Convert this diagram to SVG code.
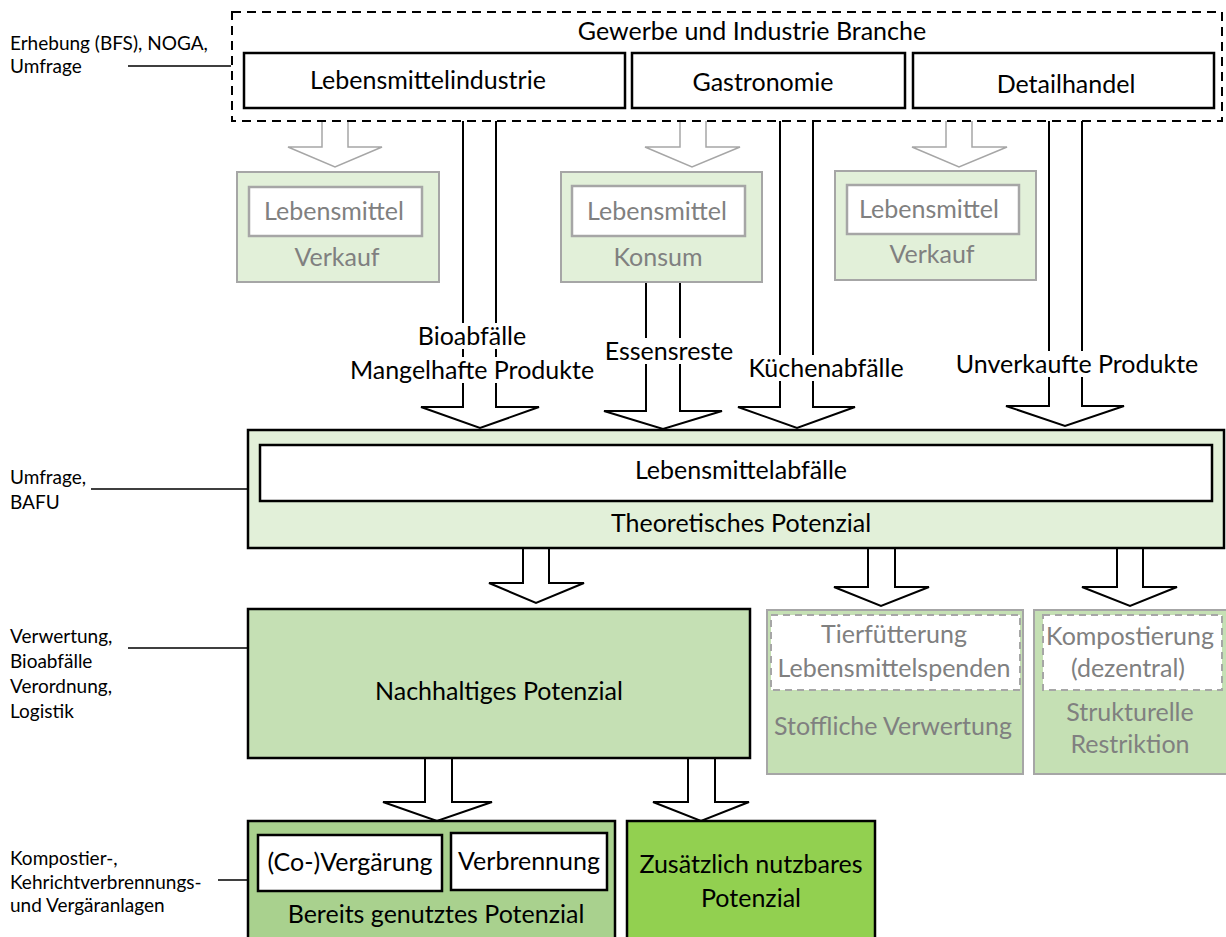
<svg xmlns="http://www.w3.org/2000/svg" width="1226" height="937" viewBox="0 0 1226 937">
<style>
text{font-family:Lato,"Open Sans","Liberation Sans",sans-serif;}
.m{font-size:25px;fill:#000;text-anchor:middle;}
.g{font-size:25px;fill:#808080;text-anchor:middle;}
.s{font-size:19px;fill:#000;}
.ba{fill:#fff;stroke:#000;stroke-width:2;stroke-linejoin:miter;}
.ga{fill:#fff;stroke:#a6a6a6;stroke-width:1.5;}
.lbl{stroke:#000;stroke-width:1.5;fill:none;}
.wb{fill:#fff;stroke:#000;stroke-width:2.5;}
.gbox{stroke:#a6a6a6;stroke-width:2;}
</style>
<rect width="1226" height="937" fill="#fff"/>
<g id="connectors">
<path class="lbl" d="M128,66 H231 M91,489 H248 M128,648 H248 M218,880 H248"/>
<path class="ga" d="M322,121 V147 H288 L335,167 L382,147 H348 V121"/>
<path class="ga" d="M680,121 V147 H645 L692,167 L740,147 H706 V121"/>
<path class="ga" d="M946,121 V147 H912 L959,167 L1007,147 H972 V121"/>
<path class="ba" d="M463,121 V407 H421 L480,428 L539,407 H496 V121"/>
<path class="ba" d="M646,282 V411 H604 L663,429 L722,411 H680 V282"/>
<path class="ba" d="M780,121 V407 H738 L797,428 L855,407 H813 V121"/>
<path class="ba" d="M1049,121 V406 H1006 L1065,426 L1124,406 H1082 V121"/>
<path class="ba" d="M523,549 V583 H489 L536,603 L584,583 H549 V549"/>
<path class="ba" d="M868,549 V587 H834 L881,606 L929,587 H895 V549"/>
<path class="ba" d="M1117,549 V587 H1082 L1130,606 L1177,587 H1143 V549"/>
<path class="ba" d="M425,758 V802 H383 L437,821 L492,802 H452 V758"/>
<path class="ba" d="M688,758 V802 H653 L701,821 L749,802 H715 V758"/>
<rect x="412" y="323" width="120" height="26" fill="#fff"/>
<rect x="348" y="357" width="248" height="26" fill="#fff"/>
<rect x="603" y="338" width="134" height="26" fill="#fff"/>
<rect x="745" y="355" width="164" height="26" fill="#fff"/>
<rect x="952" y="351" width="249" height="26" fill="#fff"/>
<text class="m" x="472" y="345">Bioabfälle</text>
<text class="m" x="472" y="379">Mangelhafte Produkte</text>
<text class="m" x="669" y="360">Essensreste</text>
<text class="m" x="826" y="377">Küchenabfälle</text>
<text class="m" x="1077" y="373">Unverkaufte Produkte</text>
</g>
<g id="labels">
<text class="s" x="10" y="50">Erhebung (BFS), NOGA,</text>
<text class="s" x="10" y="73">Umfrage</text>
<text class="s" x="10" y="484">Umfrage,</text>
<text class="s" x="10" y="509">BAFU</text>
<text class="s" x="10" y="643">Verwertung,</text>
<text class="s" x="10" y="668">Bioabfälle</text>
<text class="s" x="10" y="693">Verordnung,</text>
<text class="s" x="10" y="718">Logistik</text>
<text class="s" x="10" y="865">Kompostier-,</text>
<text class="s" x="10" y="889">Kehrichtverbrennungs-</text>
<text class="s" x="10" y="912">und Vergäranlagen</text>
</g>
<g id="branche">
<rect x="232" y="12" width="990" height="109" fill="#fff" stroke="#000" stroke-width="2" stroke-dasharray="9,6"/>
<text class="m" x="752" y="40">Gewerbe und Industrie Branche</text>
</g>
<g id="lebensmittelindustrie">
<rect class="wb" x="244" y="53" width="381" height="55"/>
<text class="m" x="428" y="89">Lebensmittelindustrie</text>
</g>
<g id="gastronomie">
<rect class="wb" x="632" y="53" width="273" height="55"/>
<text class="m" x="763" y="91">Gastronomie</text>
</g>
<g id="detailhandel">
<rect class="wb" x="913" y="53" width="301" height="55"/>
<text class="m" x="1066" y="93">Detailhandel</text>
</g>
<g id="verkauf1">
<rect class="gbox" x="237" y="172" width="202" height="110" fill="#e2f0d9"/>
<rect x="249" y="187" width="173" height="49" fill="#fff" stroke="#a6a6a6" stroke-width="2.5"/>
<text class="g" x="334" y="220">Lebensmittel</text>
<text class="g" x="337" y="266">Verkauf</text>
</g>
<g id="konsum">
<rect class="gbox" x="561" y="172" width="201" height="110" fill="#e2f0d9"/>
<rect x="572" y="186" width="173" height="50" fill="#fff" stroke="#a6a6a6" stroke-width="2.5"/>
<text class="g" x="657" y="220">Lebensmittel</text>
<text class="g" x="658" y="266">Konsum</text>
</g>
<g id="verkauf2">
<rect class="gbox" x="835" y="171" width="201" height="109" fill="#e2f0d9"/>
<rect x="847" y="185" width="172" height="49" fill="#fff" stroke="#a6a6a6" stroke-width="2.5"/>
<text class="g" x="929" y="218">Lebensmittel</text>
<text class="g" x="932" y="263">Verkauf</text>
</g>
<g id="theoretisch">
<rect x="248" y="430" width="976" height="118" fill="#e2f0d9" stroke="#000" stroke-width="2.5"/>
<rect class="wb" x="260" y="445" width="952" height="56"/>
<text class="m" x="741" y="479">Lebensmittelabfälle</text>
<text class="m" x="741" y="532">Theoretisches Potenzial</text>
</g>
<g id="nachhaltig">
<rect x="248" y="609" width="502" height="149" fill="#c5e0b4" stroke="#000" stroke-width="2.5"/>
<text class="m" x="499" y="700">Nachhaltiges Potenzial</text>
</g>
<g id="stofflich">
<rect class="gbox" x="767" y="610" width="256" height="164" fill="#c5e0b4"/>
<rect x="771" y="615" width="249" height="75" fill="#fff" stroke="#a6a6a6" stroke-width="2" stroke-dasharray="7,5"/>
<text class="g" x="894" y="643">Tierfütterung</text>
<text class="g" x="894" y="677">Lebensmittelspenden</text>
<text class="g" x="893" y="735">Stoffliche Verwertung</text>
</g>
<g id="restriktion">
<rect class="gbox" x="1034" y="610" width="194" height="164" fill="#c5e0b4"/>
<rect x="1043" y="615" width="179" height="75" fill="#fff" stroke="#a6a6a6" stroke-width="2" stroke-dasharray="7,5"/>
<text class="g" x="1130" y="645">Kompostierung</text>
<text class="g" x="1128" y="677">(dezentral)</text>
<text class="g" x="1130" y="721">Strukturelle</text>
<text class="g" x="1130" y="753">Restriktion</text>
</g>
<g id="bereits">
<rect x="248" y="821" width="367" height="130" fill="#a9d18e" stroke="#000" stroke-width="2.5"/>
<rect class="wb" x="258" y="835" width="184" height="56"/>
<rect class="wb" x="451" y="833" width="156" height="57"/>
<text class="m" x="350" y="871">(Co-)Vergärung</text>
<text class="m" x="529" y="870">Verbrennung</text>
<text class="m" x="436" y="923">Bereits genutztes Potenzial</text>
</g>
<g id="zusaetzlich">
<rect x="627" y="821" width="248" height="130" fill="#92d050" stroke="#000" stroke-width="2.5"/>
<text class="m" x="751" y="873">Zusätzlich nutzbares</text>
<text class="m" x="751" y="907">Potenzial</text>
</g>
</svg>
